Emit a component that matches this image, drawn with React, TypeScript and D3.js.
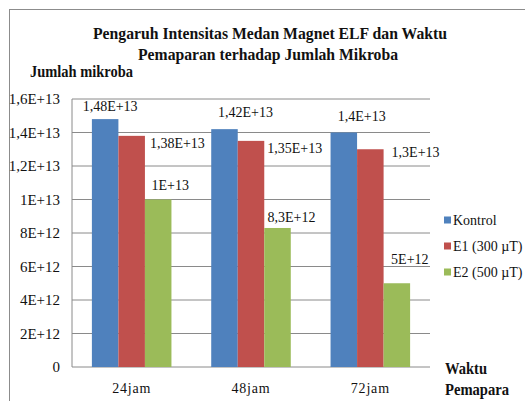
import React from 'react'
import { scaleBand, scaleLinear } from 'd3'

const categories = ['24jam', '48jam', '72jam']
const seriesNames = ['Kontrol', 'E1 (300 µT)', 'E2 (500 µT)']
const kontrol = [1.48e13, 1.42e13, 1.4e13]
const e1 = [1.38e13, 1.35e13, 1.3e13]
const e2 = [1e13, 8.3e12, 5e12]
const valueLabels = [
  ['1,48E+13', '1,42E+13', '1,4E+13'],
  ['1,38E+13', '1,35E+13', '1,3E+13'],
  ['1E+13', '8,3E+12', '5E+12'],
]
const yTicks = [0, 2e12, 4e12, 6e12, 8e12, 1e13, 1.2e13, 1.4e13, 1.6e13]
const yTickLabels = ['0', '2E+12', '4E+12', '6E+12', '8E+12', '1E+13', '1,2E+13', '1,4E+13', '1,6E+13']

// label nudges (as placed in the source chart)
const labelDx = [[5, 21, 18], [5, 3, 8], [12, 14, 13]]
const labelDy = [[-13, -17, -16], [7, 7, 3], [-14, -11, -24]]

const colors = ['#4F81BD', '#C0504D', '#9BBB59']
const width = 525
const height = 401
const margin = { top: 99, right: 95, bottom: 34, left: 72 }
const innerWidth = width - margin.left - margin.right
const innerHeight = height - margin.top - margin.bottom
const font = 'Liberation Serif, serif'

export default function App() {
  const series = [kontrol, e1, e2]
  const xScale = scaleBand().domain(categories).range([0, innerWidth])
  const x1 = scaleBand()
    .domain(seriesNames)
    .range([0, xScale.bandwidth()])
    .paddingInner(0)
    .paddingOuter(0.75)
  const yScale = scaleLinear().domain([0, 1.6e13]).range([innerHeight, 0])
  const bw = x1.bandwidth()

  return (
    <svg width={width} height={height} fontFamily={font} style={{ position: 'absolute', left: 0, top: 0 }}>
      <rect x={0} y={0} width={width} height={height} fill="#fff" />
      <rect x={9.5} y={9.5} width={width} height={height} fill="none" stroke="#8c8c8c" />
      <text x={270} y={39} textAnchor="middle" fontSize={16.5} fontWeight="bold" fill="#111" textLength={354} lengthAdjust="spacingAndGlyphs">
        Pengaruh Intensitas Medan Magnet ELF dan Waktu
      </text>
      <text x={268} y={60} textAnchor="middle" fontSize={16.5} fontWeight="bold" fill="#111" textLength={260} lengthAdjust="spacingAndGlyphs">
        Pemaparan terhadap Jumlah Mikroba
      </text>
      <text x={30} y={77} fontSize={16} fontWeight="bold" fill="#111" textLength={103} lengthAdjust="spacingAndGlyphs">Jumlah mikroba</text>

      <g transform={`translate(${margin.left},${margin.top})`}>
        {yTicks.map((t, i) => (
          <g key={t} transform={`translate(0,${yScale(t)})`}>
            <line x1={0} x2={innerWidth} stroke="#8a8a8a" strokeWidth={1} />
            <text x={-12} dy="0.35em" textAnchor="end" fontSize={15} fill="#111">{yTickLabels[i]}</text>
          </g>
        ))}
        <line x1={0} x2={0} y1={0} y2={innerHeight} stroke="#8a8a8a" />

        {categories.map((c, ci) => (
          <g key={c} transform={`translate(${xScale(c)},0)`}>
            {series.map((s, si) => (
              <rect
                key={si}
                x={x1(seriesNames[si])}
                y={yScale(s[ci])}
                width={bw}
                height={innerHeight - yScale(s[ci])}
                fill={colors[si]}
              />
            ))}
            {series.map((s, si) => (
              <text
                key={'l' + si}
                x={x1(seriesNames[si])! + (si === 1 ? bw : bw / 2) + labelDx[si][ci]}
                y={yScale(s[ci]) + labelDy[si][ci]}
                dy="0.35em"
                textAnchor={si === 1 ? 'start' : 'middle'}
                fontSize={14}
                fill="#111"
              >
                {valueLabels[si][ci]}
              </text>
            ))}
            <text x={xScale.bandwidth() / 2} y={innerHeight + 21} dy="0.35em" textAnchor="middle" fontSize={14} letterSpacing={0.8} fill="#111">
              {c}
            </text>
          </g>
        ))}
      </g>

      {seriesNames.map((n, i) => (
        <g key={n} transform={`translate(444,${220 + i * 26})`}>
          <rect x={0} y={-3.5} width={7} height={7} fill={colors[i]} />
          <text x={9} dy="0.35em" fontSize={14} fill="#111">{n}</text>
        </g>
      ))}
      <text x={445} y={368} dy="0.35em" fontSize={16} fontWeight="bold" fill="#111" textLength={42} lengthAdjust="spacingAndGlyphs">Waktu</text>
      <text x={445} y={389} dy="0.35em" fontSize={16} fontWeight="bold" fill="#111" textLength={64} lengthAdjust="spacingAndGlyphs">Pemapara</text>
    </svg>
  )
}
